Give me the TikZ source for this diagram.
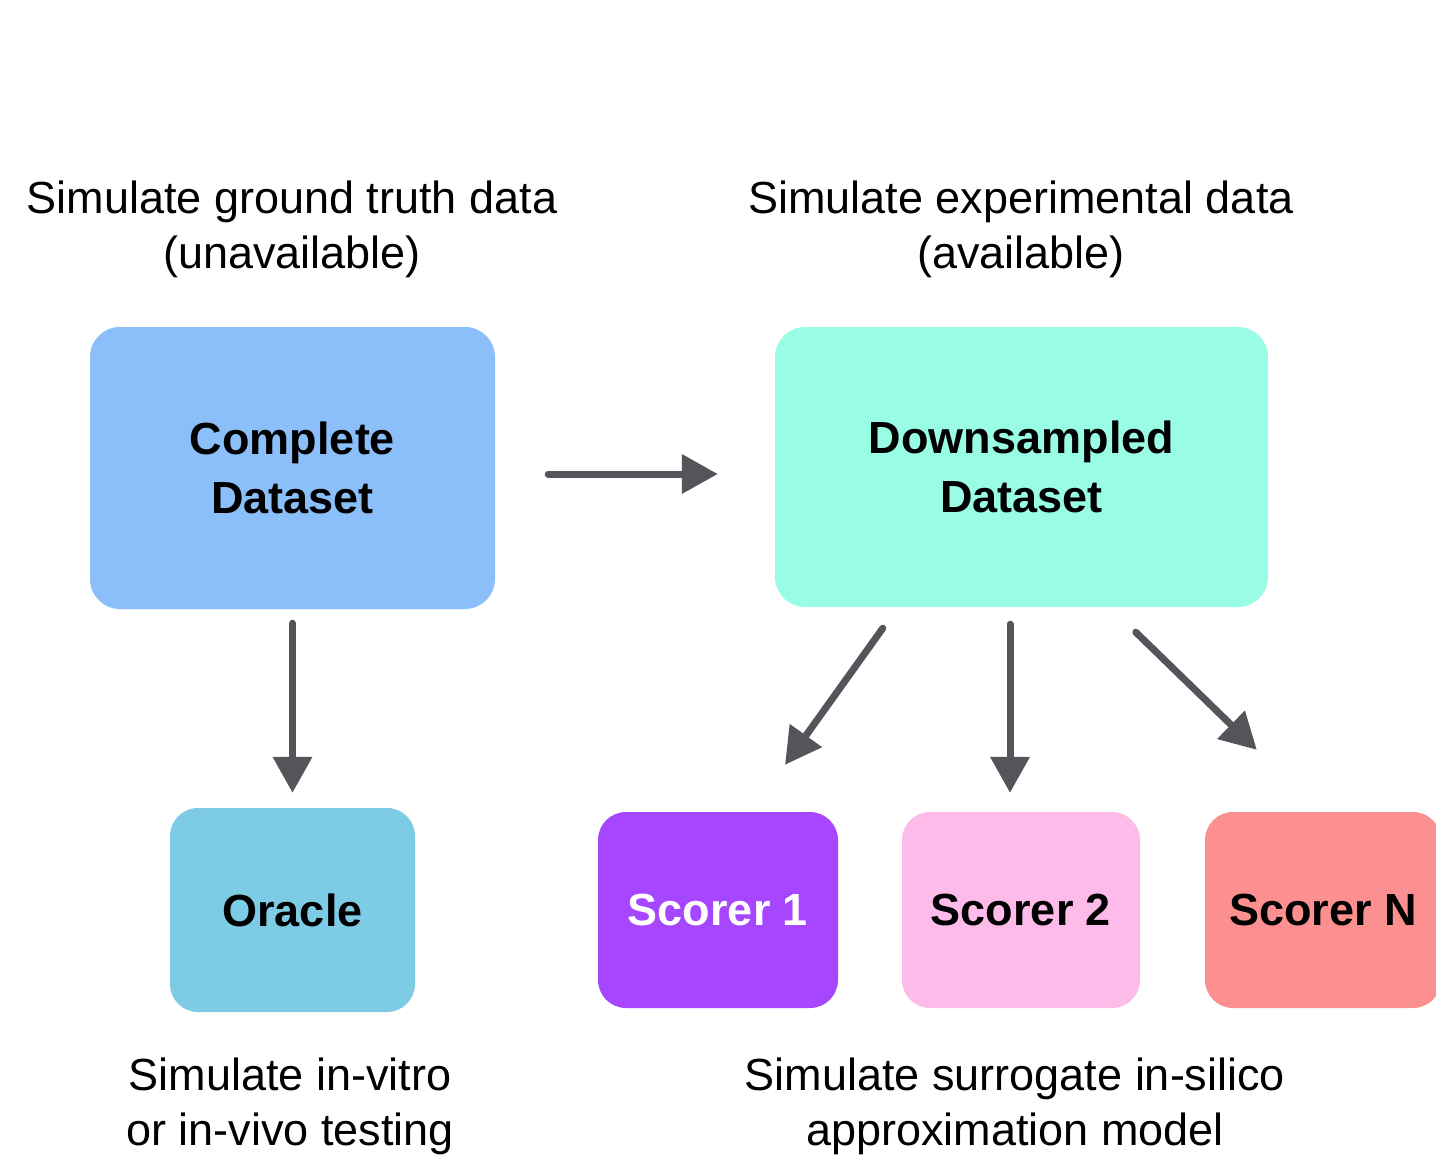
\documentclass[tikz,border=0pt]{standalone}
\usepackage{fontspec}
\setmainfont{Liberation Sans}
\usetikzlibrary{arrows.meta,calc}
\definecolor{cdblue}{HTML}{8BBFFA}
\definecolor{dsmint}{HTML}{99FDE6}
\definecolor{orblue}{HTML}{7ECBE6}
\definecolor{sonep}{HTML}{A646FF}
\definecolor{stwop}{HTML}{FDBBEA}
\definecolor{snred}{HTML}{FC9090}
\definecolor{arrgray}{HTML}{53555A}
\tikzset{
  box/.style={rounded corners=30pt, inner sep=0pt, align=center,
    font=\fontsize{45}{59}\selectfont\bfseries},
  lbl/.style={align=center, inner sep=0pt, font=\fontsize{45}{55}\selectfont},
  arr/.style={draw=arrgray, line width=7pt, line cap=round,
    -{Triangle[length=36pt,width=38pt]}}
}
\begin{document}
\begin{tikzpicture}[x=1pt,y=-1pt]
\useasboundingbox (0,0) rectangle (1436,1164);
\clip (0,0) rectangle (1436,1164);
\fill[white] (0,0) rectangle (1436,1164);

\node[lbl] (h1) at (292,229) {Simulate ground truth data\\(unavailable)};
\node[lbl] (h2) at (1021,229) {Simulate experimental data\\(available)};

\node[box, fill=cdblue, minimum width=405pt, minimum height=282pt] (cd) at (292.5,468) {Complete\\Dataset};
\node[box, fill=dsmint, minimum width=493pt, minimum height=280pt] (ds) at (1021.5,467) {Downsampled\\Dataset};

\node[box, rounded corners=28pt, fill=orblue, minimum width=245pt, minimum height=204pt] (or) at (292.5,910) {Oracle};
\node[box, rounded corners=28pt, fill=sonep, text=white, minimum width=240pt, minimum height=196pt] (s1) at (718,910) {Scorer 1};
\node[box, rounded corners=28pt, fill=stwop, minimum width=238pt, minimum height=196pt] (s2) at (1021,910) {Scorer 2};
\node[box, rounded corners=28pt, fill=snred, minimum width=236pt, minimum height=196pt] (sn) at (1323,910) {Scorer N};

\node[lbl] (b1) at (290,1106) {Simulate in-vitro\\or in-vivo testing};
\node[lbl] (b2) at (1015,1106) {Simulate surrogate in-silico\\approximation model};

\draw[arr] ($(cd.east)+(53,6)$) -- ($(ds.west)+(-57,7)$);
\draw[arr] ($(cd.south)+(0,14)$) -- ($(or.north)+(0,-15)$);
\draw[arr] ($(ds.south west)+(108,21)$) -- ($(s1.north)+(67,-47)$);
\draw[arr] ($(ds.south)+(-11.5,17)$) -- ($(s2.north)+(-11,-19)$);
\draw[arr] ($(ds.south west)+(361,25)$) -- ($(sn.north west)+(52,-62)$);
\end{tikzpicture}
\end{document}
